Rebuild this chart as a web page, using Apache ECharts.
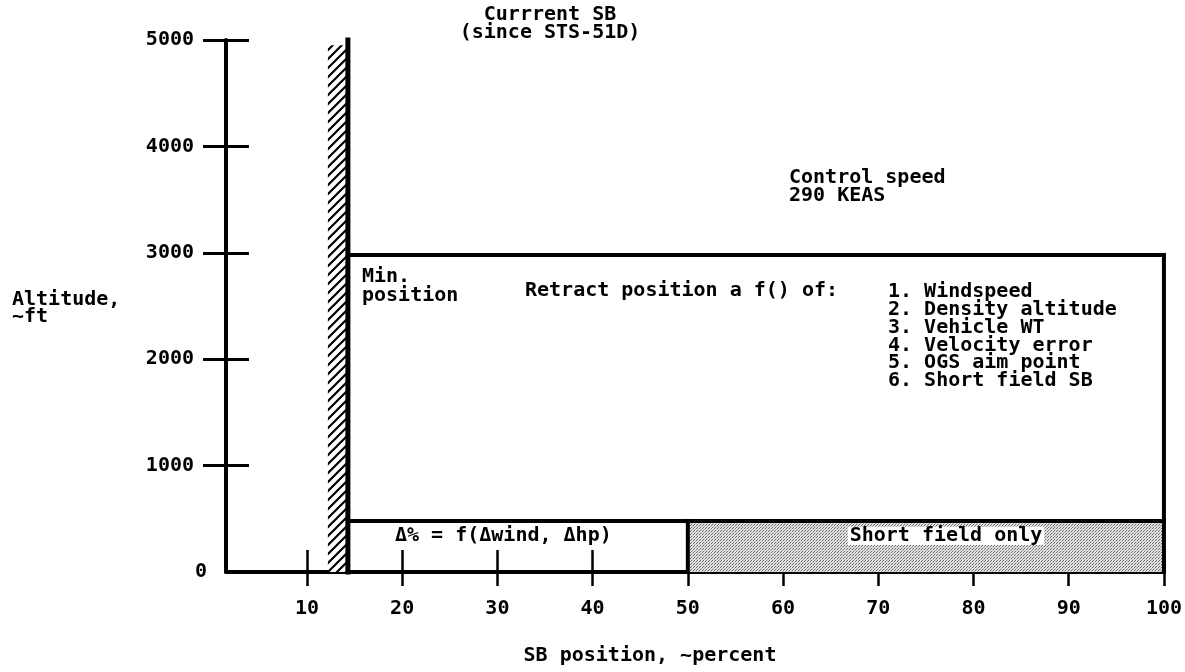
<!DOCTYPE html>
<html>
<head>
<meta charset="utf-8">
<script src="https://cdn.jsdelivr.net/npm/echarts@6/dist/echarts.min.js"></script>
<style>
  html, body { margin: 0; background: #fff; }
  #chart { width: 1185px; height: 672px; }
</style>
</head>
<body>
<div id="chart"></div>
<script>
// axis ticks
const xTicks = [10, 20, 30, 40, 50, 60, 70, 80, 90, 100]
const yTicks = [1000, 2000, 3000, 4000, 5000]
const xMin = 1.5
const xMax = 100
const yMax = 5000

// speedbrake schedule values (percent / ft)
const currentSB = 14.3
const hatchStart = 12.2
const hatchTop = 4950
const controlAltitude = 2980
const retractAltitude = 480
const shortFieldStart = 50

const retractFactors = [
  '1. Windspeed',
  '2. Density altitude',
  '3. Vehicle WT',
  '4. Velocity error',
  '5. OGS aim point',
  '6. Short field SB'
]

const FAMILY = '"DejaVu Sans Mono", monospace'
const FONT = 'bold 20px ' + FAMILY

const labelStyle = {
  color: '#000',
  fontFamily: FAMILY,
  fontSize: 20,
  fontWeight: 'bold',
  formatter: v => String(v)
}

function makeHatch() {
  const c = document.createElement('canvas')
  c.width = 9
  c.height = 9
  const ctx = c.getContext('2d')
  ctx.fillStyle = '#fff'
  ctx.fillRect(0, 0, 9, 9)
  ctx.strokeStyle = '#000'
  ctx.lineWidth = 2.2
  ctx.beginPath()
  ctx.moveTo(-1, 10); ctx.lineTo(10, -1)
  ctx.moveTo(-2, 2); ctx.lineTo(2, -2)
  ctx.moveTo(7, 11); ctx.lineTo(11, 7)
  ctx.stroke()
  return c
}

function makeStipple() {
  const c = document.createElement('canvas')
  c.width = 3
  c.height = 3
  const ctx = c.getContext('2d')
  ctx.fillStyle = '#e2e2e2'
  ctx.fillRect(0, 0, 3, 3)
  ctx.fillStyle = '#6a6a6a'
  ctx.fillRect(0, 0, 1, 1)
  ctx.fillRect(1, 2, 1, 1)
  ctx.fillStyle = '#b0b0b0'
  ctx.fillRect(2, 1, 1, 1)
  return c
}

function rectItem(fillImage) {
  return function (params, api) {
    const p0 = api.coord([api.value(0), api.value(1)])
    const p1 = api.coord([api.value(2), api.value(3)])
    return {
      type: 'rect',
      shape: {
        x: p0[0],
        y: p1[1],
        width: p1[0] - p0[0],
        height: p0[1] - p1[1]
      },
      style: { fill: { image: fillImage, repeat: 'repeat' } }
    }
  }
}

function outline(data, width) {
  return {
    type: 'line',
    data: data,
    symbol: 'none',
    clip: false,
    silent: true,
    lineStyle: { color: '#000', width: width || 4, cap: 'square', join: 'miter' },
    z: 5
  }
}

const chart = echarts.init(document.getElementById('chart'))

chart.setOption({
  animation: false,
  backgroundColor: '#fff',
  textStyle: { fontFamily: FAMILY },
  grid: { left: 226, right: 20, top: 40, bottom: 100 },
  xAxis: [
    {
      type: 'value',
      min: xMin,
      max: xMax,
      position: 'bottom',
      axisLine: { onZero: false, lineStyle: { color: '#000', width: 4 } },
      axisTick: { customValues: xTicks, length: 14, lineStyle: { color: '#000', width: 2.5 } },
      axisLabel: Object.assign({ customValues: xTicks, margin: 27 }, labelStyle),
      splitLine: { show: false }
    },
    {
      type: 'value',
      min: xMin,
      max: xMax,
      position: 'bottom',
      axisLine: { show: false, onZero: false },
      axisTick: { customValues: xTicks, inside: true, length: 22, lineStyle: { color: '#000', width: 2.5 } },
      axisLabel: { show: false },
      splitLine: { show: false }
    }
  ],
  yAxis: [
    {
      type: 'value',
      min: 0,
      max: yMax,
      interval: 1000,
      position: 'left',
      axisLine: { show: true, onZero: false, lineStyle: { color: '#000', width: 4 } },
      axisTick: { customValues: yTicks, length: 23, lineStyle: { color: '#000', width: 3 } },
      axisLabel: Object.assign({ customValues: yTicks, margin: 32 }, labelStyle),
      splitLine: { show: false }
    },
    {
      type: 'value',
      min: 0,
      max: yMax,
      interval: 1000,
      position: 'left',
      axisLine: { show: false, onZero: false },
      axisTick: { customValues: yTicks, inside: true, length: 23, lineStyle: { color: '#000', width: 3 } },
      axisLabel: Object.assign({ customValues: [0], margin: 19 }, labelStyle),
      splitLine: { show: false }
    }
  ],
  series: [
    {
      type: 'custom',
      renderItem: rectItem(makeStipple()),
      data: [[shortFieldStart, 0, xMax, retractAltitude]],
      clip: false,
      silent: true,
      z: 1
    },
    {
      type: 'custom',
      renderItem: rectItem(makeHatch()),
      data: [[hatchStart, 0, currentSB, hatchTop]],
      clip: false,
      silent: true,
      z: 1
    },
    outline([[currentSB, 0], [currentSB, yMax]], 5),
    outline([[currentSB, controlAltitude], [xMax, controlAltitude], [xMax, 0]]),
    outline([[currentSB, retractAltitude], [xMax, retractAltitude]]),
    outline([[shortFieldStart, 0], [shortFieldStart, retractAltitude]])
  ],
  graphic: [
    {
      type: 'text', x: 550, y: 6, z: 10,
      style: { text: 'Currrent SB\n(since STS-51D)', font: FONT, fill: '#000', align: 'center', lineHeight: 18 }
    },
    {
      type: 'text', x: 789, y: 169, z: 10,
      style: { text: 'Control speed\n290 KEAS', font: FONT, fill: '#000', lineHeight: 18 }
    },
    {
      type: 'text', x: 12, y: 291, z: 10,
      style: { text: 'Altitude,\n~ft', font: FONT, fill: '#000', lineHeight: 17 }
    },
    {
      type: 'text', x: 362, y: 267, z: 10,
      style: { text: 'Min.\nposition', font: FONT, fill: '#000', lineHeight: 19 }
    },
    {
      type: 'text', x: 525, y: 282, z: 10,
      style: { text: 'Retract position a f() of:', font: FONT, fill: '#000', lineHeight: 18 }
    },
    {
      type: 'text', x: 888, y: 283, z: 10,
      style: { text: retractFactors.join('\n'), font: FONT, fill: '#000', lineHeight: 17.8 }
    },
    {
      type: 'text', x: 395, y: 527, z: 10,
      style: { text: 'Δ% = f(Δwind, Δhp)', font: FONT, fill: '#000', lineHeight: 18 }
    },
    {
      type: 'text', x: 946, y: 527, z: 10,
      style: {
        text: 'Short field only', font: FONT, fill: '#000', align: 'center', lineHeight: 18,
        backgroundColor: '#fff', padding: [0, 2]
      }
    },
    {
      type: 'text', x: 650, y: 647, z: 10,
      style: { text: 'SB position, ~percent', font: FONT, fill: '#000', align: 'center', lineHeight: 18 }
    }
  ]
})
</script>
</body>
</html>
